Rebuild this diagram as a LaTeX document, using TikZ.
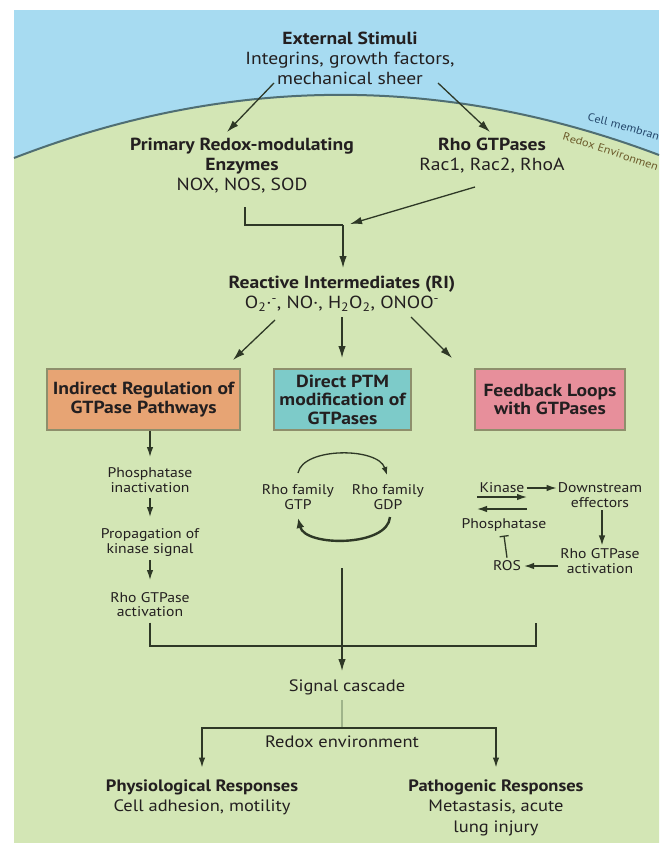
\documentclass[tikz,border=0pt]{standalone}
\usepackage{fontspec}
\setmainfont{PT Sans}[FakeStretch=1.12]
\usetikzlibrary{arrows.meta,calc,decorations.text}
\definecolor{sky}{HTML}{A7DBF1}
\definecolor{cellgreen}{HTML}{D3E6B5}
\definecolor{membr}{HTML}{4F6E73}
\definecolor{ink}{HTML}{231F20}
\definecolor{linec}{HTML}{2E3826}
\definecolor{lightc}{HTML}{9FB48A}
\definecolor{orangebox}{HTML}{E7A474}
\definecolor{tealbox}{HTML}{7DCBC9}
\definecolor{pinkbox}{HTML}{E78F9B}
\definecolor{boxedge}{HTML}{8E8F6C}
\definecolor{cmtext}{HTML}{24476B}
\definecolor{retext}{HTML}{6B5A2A}
\begin{document}
\begin{tikzpicture}[x=1pt,y=-1pt,
  every node/.style={text=ink, inner sep=0pt},
  main/.style={align=center, font=\fontsize{17.5}{20}\selectfont},
  low/.style={align=center, font=\fontsize{16.5}{20.5}\selectfont},
  small/.style={align=center, font=\fontsize{14}{14.5}\selectfont},
  gbox/.style={draw=boxedge, line width=1.5pt, align=center, minimum height=61pt,
     font=\fontsize{17.5}{18.5}\selectfont\bfseries},
  line/.style={draw=linec, line width=1.3pt},
  arr/.style={line, -{Latex[length=12pt,width=7.5pt]}},
  sarr/.style={line, -{Latex[length=10pt,width=6.5pt]}}
]
\useasboundingbox (0,0) rectangle (659,843);
\fill[white] (0,0) rectangle (659,843);
\fill[sky] (14,10) rectangle (659,843);
\fill[cellgreen] (14,158) .. controls (229,74.8) and (444,73.8) .. (659,155) -- (659,843) -- (14,843) -- cycle;
\draw[membr, line width=2pt] (14,158) .. controls (229,74.8) and (444,73.8) .. (659,155);
\path[decorate, decoration={text along path, text align=left,
  text={|\fontsize{11}{11}\selectfont\color{cmtext}|Cell membran}}]
  (587,121) .. controls (615,127) and (640,135) .. (700,153);
\path[decorate, decoration={text along path, text align=left,
  text={|\fontsize{11}{11}\selectfont\color{retext}|Redox Environmen}}]
  (562,140) .. controls (596,150) and (636,163) .. (696,185);

% top text
\node[main] (ext) at (350,58) {\textbf{External Stimuli}\\Integrins, growth factors,\\mechanical sheer};
\node[main] (enz) at (242,166) {\textbf{Primary Redox-modulating}\\\textbf{Enzymes}\\NOX, NOS, SOD};
\node[main] (rho) at (492,156) {\textbf{Rho GTPases}\\Rac1, Rac2, RhoA};
\node[main] (ri) at (342,294) {\textbf{Reactive Intermediates (RI)}\\O\textsubscript{2}·\textsuperscript{-}, NO·, H\textsubscript{2}O\textsubscript{2}, ONOO\textsuperscript{-}};

\draw[arr] ($(ext.center)+(-76,25)$) -- ($(enz.center)+(-15,-34)$);
\draw[arr] ($(ext.center)+(88,25)$) -- ($(rho.center)+(-2,-24)$);
\coordinate (junc) at (343,225);
\draw[line] ($(enz.center)+(3,41)$) |- (junc);
\draw[arr] (junc) -- ($(ri.center)+(1,-26)$);
\draw[arr] ($(rho.center)+(-17,31)$) -- ($(ri.center)+(8,-70)$);

% boxes
\node[gbox, fill=orangebox, minimum width=193pt] (ind) at (143.5,399.5) {Indirect Regulation of\\GTPase Pathways};
\node[gbox, fill=tealbox, minimum width=137pt] (ptm) at (342.5,399.5) {Direct PTM\\modification of\\GTPases};
\node[gbox, fill=pinkbox, minimum width=150pt] (fb) at (550,399.5) {Feedback Loops\\with GTPases};

\draw[arr] ($(ri.center)+(-67,26)$) -- ($(ind.center)+(89.5,-39.5)$);
\draw[arr] ($(ri.center)+(0,23)$) -- ($(ptm.center)+(-0.5,-41.5)$);
\draw[arr] ($(ri.center)+(69,23)$) -- ($(fb.center)+(-98,-41.5)$);

% left column
\node[small] (pin) at (150,480) {Phosphatase\\inactivation};
\node[small] (prop) at (150,542.5) {Propagation of\\kinase signal};
\node[small] (rga) at (150,604.5) {Rho GTPase\\activation};
\draw[sarr] ($(ind.center)+(6.5,31)$) -- ($(pin.center)+(0,-23)$);
\draw[sarr] ($(pin.center)+(0,18)$) -- ($(prop.center)+(0,-25.5)$);
\draw[sarr] ($(prop.center)+(0,17.5)$) -- ($(rga.center)+(0,-24.5)$);

% cycle
\node[small] (gtp) at (298,497) {Rho family\\GTP};
\node[small] (gdp) at (388,497) {Rho family\\GDP};
\draw[line, -{Latex[length=8pt,width=6pt]}] ($(gtp.center)+(0,-24)$) .. controls ($(gtp.center)+(5,-50)$) and ($(gdp.center)+(-10,-50)$) .. ($(gdp.center)+(-1,-22)$);
\draw[line, line width=2.4pt, -{Latex[length=10pt,width=8pt]}] ($(gdp.center)+(2,20)$) .. controls ($(gdp.center)+(0,50)$) and ($(gtp.center)+(7,50)$) .. ($(gtp.center)+(0,21)$);

% right panel
\node[small] (kin) at (502,488) {Kinase};
\node[small] (ds) at (600,495) {Downstream\\effectors};
\node[small] (php) at (504,525) {Phosphatase};
\node[small] (ros) at (507,566) {ROS};
\node[small] (rgb) at (600,561) {Rho GTPase\\activation};
\draw[sarr] ($(kin.east)+(2,0)$) -- ($(kin.east -| ds.west)+(-1,0)$);
\draw[sarr] ($(kin.center)+(-25,9)$) -- ($(kin.center)+(25,9)$);
\draw[sarr] ($(php.center)+(23,-16)$) -- ($(php.center)+(-27,-16)$);
\draw[sarr] ($(ds.south)+(2,3)$) -- ($(rgb.north)+(2,-3)$);
\draw[sarr] ($(rgb.west |- ros.east)+(-2,0)$) -- ($(ros.east)+(3,0)$);
\draw[line, -{Bar[width=9pt]}] ($(ros.north)+(0,-3)$) -- ($(php.south)+(0,4)$);

% merge
\node[low] (sig) at (347,687) {Signal cascade};
\coordinate (bus) at (342,646);
\draw[line] ($(rga.center)+(0,18)$) |- (bus);
\draw[line] ($(rgb.center)+(-64,62)$) |- (bus);
\coordinate (cl) at (342,568);
\draw[arr] (cl) -- ($(sig.center)+(-5,-16)$);

% bottom
\coordinate (hub) at (342,728);
\node[low] (red) at (342,742) {Redox environment};
\node[low] (phys) at (202,797.5) {\textbf{Physiological Responses}\\Cell adhesion, motility};
\node[low] (path) at (496,807.5) {\textbf{Pathogenic Responses}\\Metastasis, acute\\lung injury};
\draw[lightc, line width=1.3pt] ($(sig.center)+(-5,13)$) -- (hub);
\draw[sarr] (hub) -| ($(phys.center)+(0,-30)$);
\draw[sarr] (hub) -| ($(path.center)+(0,-40)$);
\end{tikzpicture}
\end{document}
